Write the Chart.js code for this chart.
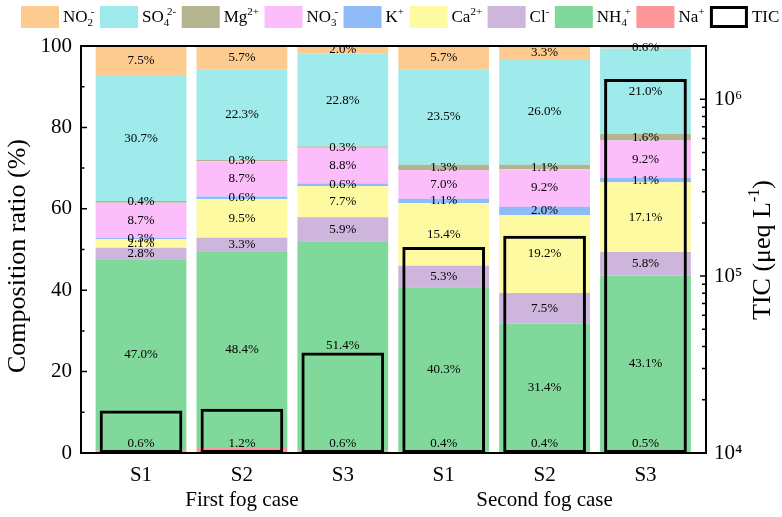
<!DOCTYPE html>
<html>
<head>
<meta charset="utf-8">
<script src="https://cdn.jsdelivr.net/npm/chart.js@4.4.1/dist/chart.umd.min.js"></script>
<style>
  html, body { margin: 0; padding: 0; background: #fff; }
  #wrap { width: 782px; height: 517px; position: relative; }
</style>
</head>
<body>
<div id="wrap"><canvas id="chart"></canvas></div>
<script>
// samples, left to right
const samples = ['S1', 'S2', 'S3', 'S1', 'S2', 'S3'];
const groups = ['First fog case', 'Second fog case'];

// ion shares in %, bottom of the stack first
const na  = [0.6, 1.2, 0.6, 0.4, 0.4, 0.5];
const nh4 = [47.0, 48.4, 51.4, 40.3, 31.4, 43.1];
const cl  = [2.8, 3.3, 5.9, 5.3, 7.5, 5.8];
const ca  = [2.1, 9.5, 7.7, 15.4, 19.2, 17.1];
const k   = [0.3, 0.6, 0.6, 1.1, 2.0, 1.1];
const no3 = [8.7, 8.7, 8.8, 7.0, 9.2, 9.2];
const mg  = [0.4, 0.3, 0.3, 1.3, 1.1, 1.6];
const so4 = [30.7, 22.3, 22.8, 23.5, 26.0, 21.0];
const no2 = [7.5, 5.7, 2.0, 5.7, 3.3, 0.6];

// total ion concentration, ueq/L (right log axis)
const tic = [17400, 17800, 37000, 146000, 169000, 1300000];

const leftTicks = [0, 20, 40, 60, 80, 100];
const rightTicks = [1e4, 1e5, 1e6];

const ions = [
  { label: 'Na⁺',   data: na,  color: '#fc9797' },
  { label: 'NH₄⁺',  data: nh4, color: '#80d99a' },
  { label: 'Cl⁻',   data: cl,  color: '#cdb5db' },
  { label: 'Ca²⁺',  data: ca,  color: '#fdfaa1' },
  { label: 'K⁺',    data: k,   color: '#8fbbf8' },
  { label: 'NO₃⁻',  data: no3, color: '#fcbdfb' },
  { label: 'Mg²⁺',  data: mg,  color: '#b4b490' },
  { label: 'SO₄²⁻', data: so4, color: '#9feaea' },
  { label: 'NO₂⁻',  data: no2, color: '#fdcb8f' }
];

const serif = '"Liberation Serif", "Times New Roman", serif';
const sup = { 4: '⁴', 5: '⁵', 6: '⁶' };

let datasets = ions.map(ion => ({
  label: ion.label,
  data: ion.data.map((v, i) => ({ x: i + 1, y: v })),
  backgroundColor: ion.color,
  borderWidth: 0,
  yAxisID: 'y',
  categoryPercentage: 1,
  barPercentage: 0.9
}));

datasets.push({
  label: 'TIC',
  data: tic.map((v, i) => ({ x: i + 1, y: v })),
  backgroundColor: 'rgba(255,255,255,0)',
  borderColor: '#000',
  borderWidth: 3,
  borderSkipped: false,
  yAxisID: 'y1',
  grouped: false,
  order: -1,
  categoryPercentage: 1,
  barPercentage: 0.82
});

// split unicode sub/superscripts into runs so they can be drawn small
const SUBS = '₀₁₂₃₄₅₆₇₈₉';
const SUPS = '⁰¹²³⁴⁵⁶⁷⁸⁹';
function runs(text) {
  const out = [];
  for (const ch of text) {
    let kind = 'base', c = ch;
    if (SUBS.includes(ch)) { kind = 'sub'; c = String(SUBS.indexOf(ch)); }
    else if (SUPS.includes(ch)) { kind = 'sup'; c = String(SUPS.indexOf(ch)); }
    else if (ch === '⁺') { kind = 'sup'; c = '+'; }
    else if (ch === '⁻') { kind = 'sup'; c = '-'; }
    const last = out[out.length - 1];
    if (last && last.kind === kind) last.text += c;
    else out.push({ kind, text: c });
  }
  return out;
}

// draws text with small sub/sup stacked; returns the width
function drawRich(ctx, text, x, y, size, dry) {
  const small = Math.round(size * 0.62);
  const parts = runs(text);
  let w = 0;
  for (let i = 0; i < parts.length; i++) {
    const p = parts[i];
    if (p.kind === 'base') {
      ctx.font = size + 'px ' + serif;
      if (!dry) ctx.fillText(p.text, x + w, y);
      w += ctx.measureText(p.text).width;
    } else {
      ctx.font = small + 'px ' + serif;
      const dy = p.kind === 'sub' ? size * 0.28 : -size * 0.32;
      if (!dry) ctx.fillText(p.text, x + w, y + dy);
      let pw = ctx.measureText(p.text).width;
      // sub followed by sup: stack them
      const nx = parts[i + 1];
      if (p.kind === 'sub' && nx && nx.kind === 'sup') {
        if (!dry) ctx.fillText(nx.text, x + w + pw * 0.6, y - size * 0.32);
        pw = Math.max(pw, pw * 0.6 + ctx.measureText(nx.text).width);
        i++;
      }
      w += pw;
    }
  }
  return w;
}

// legend in one row: top ion first, TIC last
function drawLegend(chart) {
  const ctx = chart.ctx;
  const items = chart.data.datasets.slice(0, ions.length).reverse()
    .concat(chart.data.datasets.slice(ions.length));
  ctx.save();
  ctx.textBaseline = 'middle';
  ctx.textAlign = 'left';
  let x = 21;
  const top = 6, bw = 38, bh = 22;
  items.forEach(ds => {
    if (ds.borderWidth > 0) {
      ctx.fillStyle = '#fff';
      ctx.fillRect(x, top, bw, bh);
      ctx.lineWidth = 3;
      ctx.strokeStyle = ds.borderColor;
      ctx.strokeRect(x + 1.5, top + 1.5, bw - 3, bh - 3);
    } else {
      ctx.fillStyle = ds.backgroundColor;
      ctx.fillRect(x, top, bw, bh);
    }
    x += bw + 4;
    ctx.fillStyle = '#000';
    x += drawRich(ctx, ds.label, x, top + bh / 2 + 1, 17) + 5.5;
  });
  ctx.restore();
}

function drawRotated(ctx, text, cx, cy, size) {
  ctx.save();
  ctx.translate(cx, cy);
  ctx.rotate(-Math.PI / 2);
  ctx.textAlign = 'left';
  const w = drawRich(ctx, text, 0, 0, size, true);
  drawRich(ctx, text, -w / 2, 0, size);
  ctx.restore();
}

// frame, inward ticks, axis titles, group names and % labels
const extras = {
  id: 'extras',
  afterDraw(chart) {
    const { ctx, chartArea: a, scales } = chart;
    ctx.save();

    // % labels on each segment
    ctx.font = '13px ' + serif;
    ctx.fillStyle = '#000';
    ctx.textAlign = 'center';
    ctx.textBaseline = 'middle';
    ions.forEach((ion, di) => {
      chart.getDatasetMeta(di).data.forEach((bar, i) => {
        let y = (bar.y + bar.base) / 2;
        y = Math.min(y, a.bottom - 9);
        ctx.fillText(ion.data[i].toFixed(1) + '%', bar.x, y);
      });
    });

    // frame
    ctx.strokeStyle = '#000';
    ctx.lineWidth = 2;
    ctx.strokeRect(a.left, a.top, a.width, a.height);

    // left ticks
    ctx.lineWidth = 1.5;
    ctx.beginPath();
    for (let v = 0; v <= 100; v += 10) {
      const y = scales.y.getPixelForValue(v);
      ctx.moveTo(a.left, y);
      ctx.lineTo(a.left + (v % 20 === 0 ? 6 : 3.5), y);
    }
    // right ticks (log)
    for (let d = 1e4; d <= 1e6; d *= 10) {
      for (let m = 1; m <= 9; m++) {
        const v = d * m;
        if (v > scales.y1.max) break;
        const y = scales.y1.getPixelForValue(v);
        ctx.moveTo(a.right, y);
        ctx.lineTo(a.right - (m === 1 ? 6 : 4), y);
      }
    }
    ctx.stroke();

    // axis titles
    ctx.textBaseline = 'middle';
    drawRotated(ctx, 'Composition ratio (%)', 18, 256, 26);
    drawRotated(ctx, 'TIC (μeq L⁻¹)', 763, 250, 26);

    // group names under S2 of each case
    ctx.textAlign = 'center';
    ctx.font = '21px ' + serif;
    ctx.fillText(groups[0], scales.x.getPixelForValue(2), 500);
    ctx.fillText(groups[1], scales.x.getPixelForValue(5), 500);
    ctx.restore();

    drawLegend(chart);
  }
};

new Chart(document.getElementById('chart'), {
  type: 'bar',
  data: { datasets: datasets },
  plugins: [extras],
  options: {
    responsive: true,
    maintainAspectRatio: false,
    animation: false,
    layout: { padding: { top: 46 } },
    plugins: {
      tooltip: { enabled: false },
      legend: { display: false }
    },
    scales: {
      x: {
        type: 'linear',
        stacked: true,
        offset: false,
        min: 0.405,
        max: 6.6,
        grid: { display: false, drawTicks: false },
        border: { display: false },
        afterBuildTicks: s => { s.ticks = samples.map((c, i) => ({ value: i + 1 })); },
        afterFit: s => { s.height = 64; },
        ticks: {
          padding: 10,
          color: '#000',
          font: { family: serif, size: 21 },
          callback: v => samples[v - 1]
        }
      },
      y: {
        position: 'left',
        stacked: true,
        min: 0,
        max: 100,
        grid: { display: false, drawTicks: false },
        border: { display: false },
        afterBuildTicks: s => { s.ticks = leftTicks.map(v => ({ value: v })); },
        afterFit: s => { s.width = 81; },
        ticks: {
          padding: 9,
          color: '#000',
          font: { family: serif, size: 21 }
        }
      },
      y1: {
        type: 'logarithmic',
        position: 'right',
        min: 1e4,
        max: 2e6,
        grid: { display: false, drawTicks: false },
        border: { display: false },
        afterBuildTicks: s => { s.ticks = rightTicks.map(v => ({ value: v })); },
        afterFit: s => { s.width = 76; },
        ticks: {
          padding: 8,
          color: '#000',
          font: { family: serif, size: 21 },
          callback: v => '10' + sup[Math.round(Math.log10(v))]
        }
      }
    }
  }
});
</script>
</body>
</html>
